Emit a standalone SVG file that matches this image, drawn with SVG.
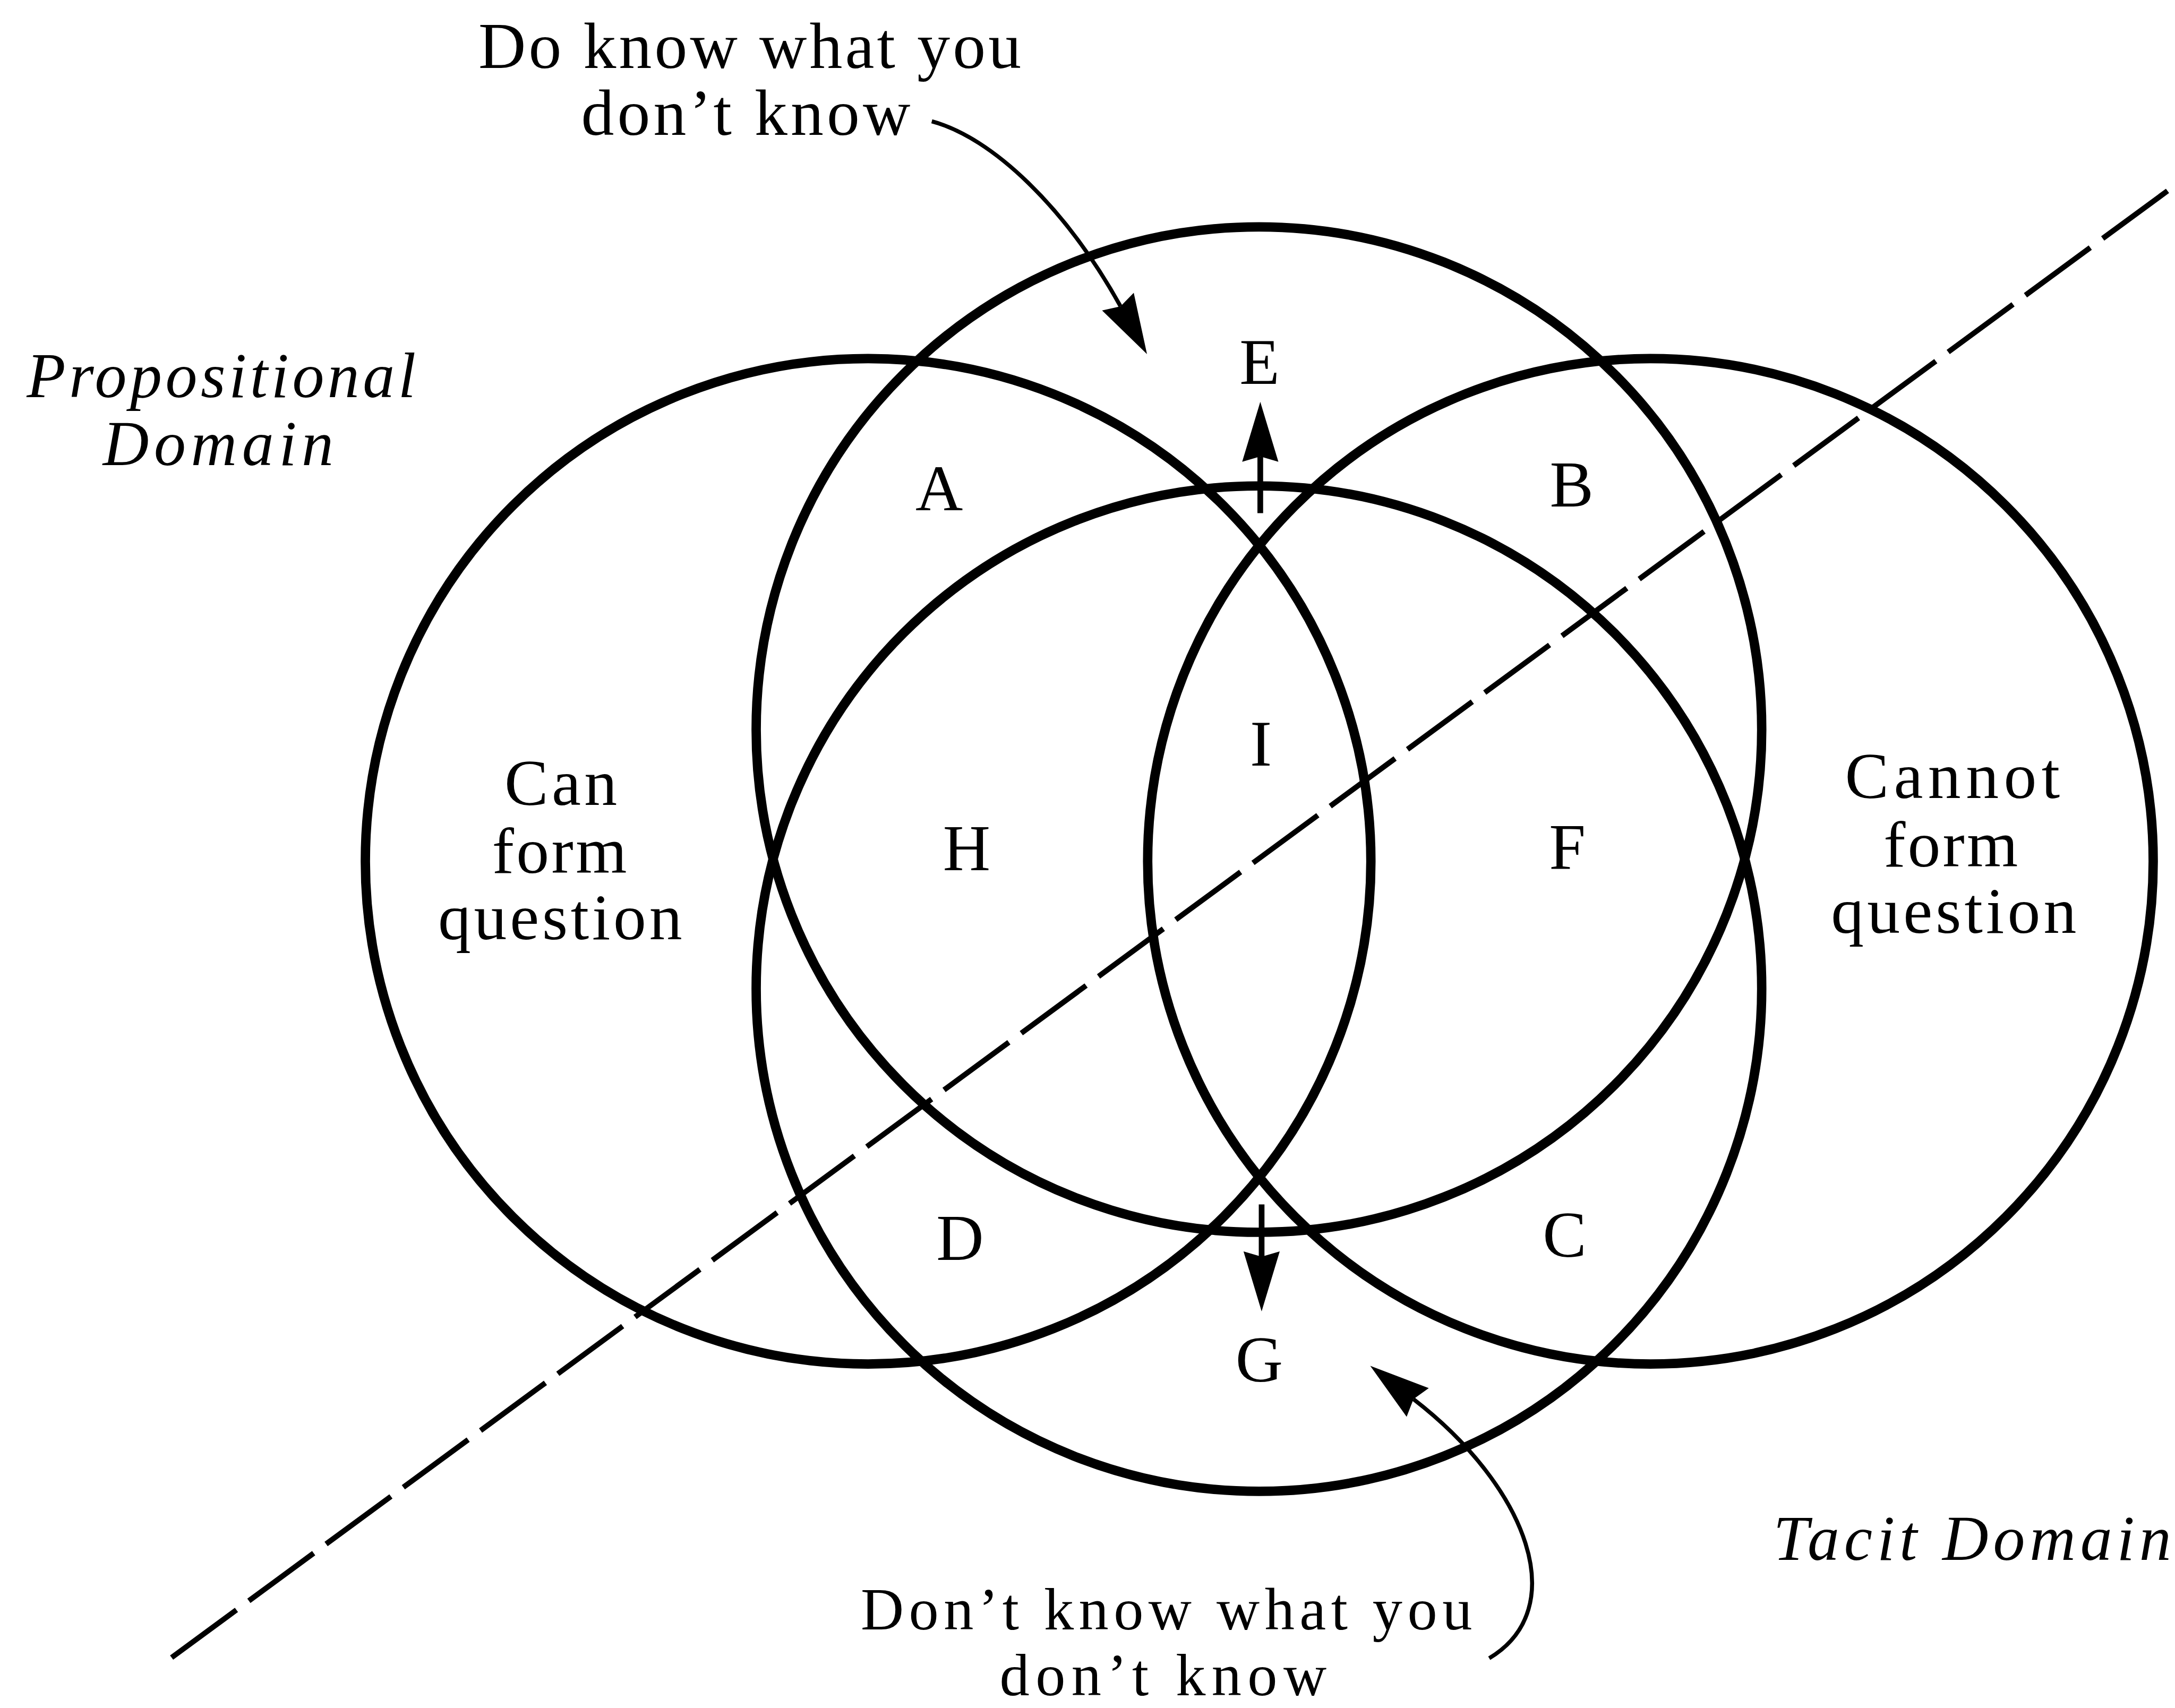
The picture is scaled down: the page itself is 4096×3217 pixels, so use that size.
<svg xmlns="http://www.w3.org/2000/svg" width="4096" height="3217" viewBox="0 0 4096 3217">
<style>
.ring{fill:none;stroke:#000;stroke-width:28}
.t{font-family:"Liberation Serif","Times New Roman",serif;font-size:196px;fill:#000;text-anchor:middle}
.tb{font-size:178px}
.it{font-family:"Liberation Serif","Times New Roman",serif;font-style:italic;font-size:190px;fill:#000;text-anchor:middle}
.conn{fill:none;stroke:#000;stroke-width:12}
.shaft{fill:none;stroke:#000;stroke-width:17}
.dash{fill:none;stroke:#000;stroke-width:16;stroke-dasharray:240 46}
</style>
<defs>
<marker id="ah" markerUnits="userSpaceOnUse" viewBox="-20 -60 190 120" refX="0" refY="0" markerWidth="190" markerHeight="120" orient="auto" overflow="visible">
<path d="M163,0 L-16,-54 L0,0 L-16,54 Z" fill="#000"/>
</marker>
</defs>
<rect width="4096" height="3217" fill="#fff"/>
<g transform="scale(0.63122)">
<g id="circle-left"><circle class="ring" cx="2590" cy="2570" r="1500"/></g>
<g id="circle-top"><circle class="ring" cx="3756" cy="2177" r="1500"/></g>
<g id="circle-bottom"><circle class="ring" cx="3756" cy="2950" r="1500"/></g>
<g id="circle-right"><circle class="ring" cx="4924" cy="2570" r="1500"/></g>

<g id="connectors">
<path class="dash" d="M512,4946 L6500,545"/>
<path class="shaft" d="M3760,1531 L3760,1362" marker-end="url(#ah)"/>
<path class="shaft" d="M3764,3594 L3764,3750" marker-end="url(#ah)"/>
<path class="conn" d="M2780,362 C2960,410 3180,620 3343,914" marker-end="url(#ah)"/>
<path class="conn" d="M4443,4948 C4690,4800 4560,4440 4217,4175" marker-end="url(#ah)"/>
</g>

<g id="label-do-know">
<text class="t" x="2237" y="203" textLength="1619" lengthAdjust="spacing">Do know what you</text>
<text class="t" x="2225" y="402" textLength="982" lengthAdjust="spacing">don’t know</text>
</g>
<g id="label-dont-know">
<text class="t tb" x="3480" y="4862" textLength="1824" lengthAdjust="spacing">Don’t know what you</text>
<text class="t tb" x="3470" y="5058" textLength="975" lengthAdjust="spacing">don’t know</text>
</g>
<g id="label-propositional">
<text class="it" x="660" y="1185" textLength="1161" lengthAdjust="spacing">Propositional</text>
<text class="it" x="651" y="1388" textLength="688" lengthAdjust="spacing">Domain</text>
</g>
<g id="label-tacit">
<text class="it" x="5884" y="4655" textLength="1187" lengthAdjust="spacing">Tacit Domain</text>
</g>
<g id="label-can">
<text class="t" x="1673" y="2401" textLength="336" lengthAdjust="spacing">Can</text>
<text class="t" x="1669" y="2605" textLength="402" lengthAdjust="spacing">form</text>
<text class="t" x="1671" y="2803" textLength="728" lengthAdjust="spacing">question</text>
</g>
<g id="label-cannot">
<text class="t" x="5825" y="2381" textLength="641" lengthAdjust="spacing">Cannot</text>
<text class="t" x="5820" y="2585" textLength="401" lengthAdjust="spacing">form</text>
<text class="t" x="5829" y="2783" textLength="732" lengthAdjust="spacing">question</text>
</g>
<g id="region-labels">
<text class="t" x="2802" y="1523">A</text>
<text class="t" x="4689" y="1511">B</text>
<text class="t" x="3758" y="1146">E</text>
<text class="t" x="3762" y="2285">I</text>
<text class="t" x="2884" y="2596">H</text>
<text class="t" x="4676" y="2592">F</text>
<text class="t" x="2864" y="3759">D</text>
<text class="t" x="4668" y="3750">C</text>
<text class="t" x="3757" y="4122">G</text>
</g>
</g>
</svg>
